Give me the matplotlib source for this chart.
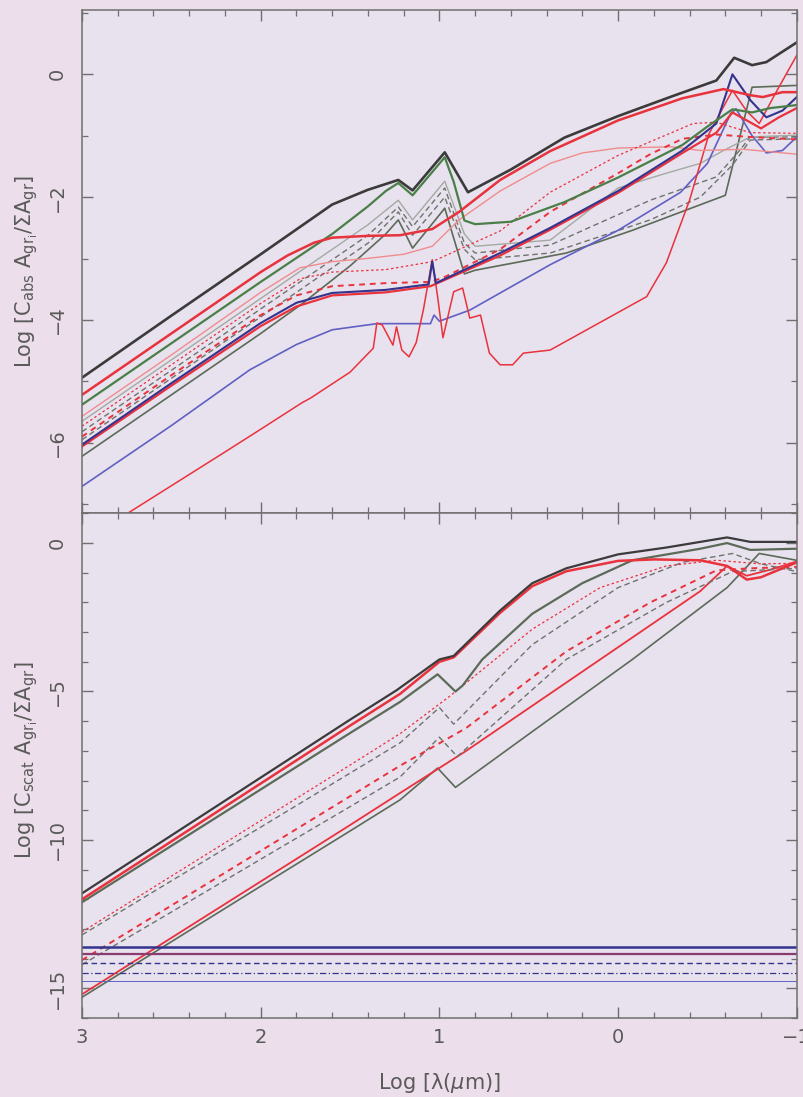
import matplotlib
matplotlib.use("Agg")
import matplotlib.pyplot as plt
from matplotlib.ticker import MultipleLocator

plt.rcParams['font.family'] = ['DejaVu Sans']
plt.rcParams['mathtext.fontset'] = 'dejavusans'

# ---------------- top panel: absorption ----------------
abs_black_x = [3.0, 2.5, 2.0, 1.6, 1.4, 1.23, 1.15, 0.97, 0.84, 0.6, 0.3, 0.0, -0.3, -0.55, -0.65, -0.75, -0.83, -1.0]
abs_black_y = [-4.94, -3.93, -2.93, -2.12, -1.88, -1.72, -1.89, -1.27, -1.92, -1.55, -1.03, -0.68, -0.36, -0.10, 0.27, 0.15, 0.20, 0.52]

abs_green_x = [3.0, 2.5, 2.0, 1.6, 1.4, 1.3, 1.23, 1.15, 0.97, 0.92, 0.86, 0.8, 0.6, 0.3, 0.0, -0.36, -0.5, -0.64, -0.75, -0.85, -1.0]
abs_green_y = [-5.38, -4.38, -3.38, -2.6, -2.15, -1.9, -1.77, -1.97, -1.35, -1.75, -2.38, -2.44, -2.4, -2.08, -1.68, -1.15, -0.85, -0.57, -0.62, -0.55, -0.5]

abs_gray_x = [3.0, 2.5, 2.0, 1.6, 1.4, 1.23, 1.15, 0.97, 0.86, 0.8, 0.38, 0.0, -0.27, -0.46, -0.59, -0.74, -1.0]
abs_gray_y = [-5.65, -4.65, -3.65, -2.85, -2.45, -2.05, -2.37, -1.74, -2.6, -2.8, -2.7, -1.85, -1.61, -1.45, -1.24, -1.02, -0.99]

abs_gdash1_x = [3.0, 2.5, 2.0, 1.6, 1.4, 1.23, 1.15, 0.97, 0.86, 0.8, 0.38, -0.18, -0.55, -0.68, -0.74, -1.0]
abs_gdash1_y = [-5.82, -4.82, -3.82, -3.02, -2.62, -2.16, -2.48, -1.85, -2.75, -2.91, -2.78, -2.05, -1.67, -1.24, -1.02, -1.02]

abs_gdash2_x = [3.0, 2.5, 2.0, 1.6, 1.4, 1.23, 1.15, 0.97, 0.86, 0.8, 0.38, -0.18, -0.46, -0.64, -0.74, -1.0]
abs_gdash2_y = [-5.95, -4.95, -3.95, -3.15, -2.75, -2.24, -2.62, -2.0, -2.85, -3.02, -2.91, -2.37, -2.0, -1.48, -1.07, -1.05]

abs_glow_x = [3.0, 2.5, 2.0, 1.77, 1.5, 1.3, 1.23, 1.15, 0.97, 0.86, 0.8, 0.29, -0.08, -0.6, -0.75, -1.0]
abs_glow_y = [-6.22, -5.22, -4.22, -3.74, -3.12, -2.6, -2.37, -2.83, -2.18, -3.25, -3.19, -2.91, -2.54, -1.97, -0.21, -0.18]

abs_red1_x = [3.0, 2.5, 2.0, 1.85, 1.7, 1.6, 1.4, 1.22, 1.04, 0.89, 0.66, 0.38, 0.0, -0.36, -0.59, -0.74, -0.81, -0.92, -1.0]
abs_red1_y = [-5.22, -4.22, -3.22, -2.95, -2.74, -2.66, -2.63, -2.62, -2.52, -2.24, -1.72, -1.25, -0.75, -0.39, -0.24, -0.34, -0.37, -0.29, -0.29]

abs_pink_x = [3.0, 2.5, 2.0, 1.78, 1.6, 1.41, 1.2, 1.04, 0.89, 0.66, 0.38, 0.2, 0.0, -0.3, -0.46, -0.7, -1.0]
abs_pink_y = [-5.57, -4.57, -3.55, -3.15, -3.05, -3.0, -2.93, -2.8, -2.37, -1.9, -1.45, -1.28, -1.2, -1.18, -1.24, -1.22, -1.3]

abs_rdash1_x = [3.0, 2.5, 2.0, 1.78, 1.6, 1.3, 1.04, 0.66, 0.38, 0.0, -0.42, -0.55, -0.74, -1.0]
abs_rdash1_y = [-5.73, -4.73, -3.73, -3.33, -3.22, -3.18, -3.05, -2.55, -1.92, -1.32, -0.8, -0.78, -0.95, -0.96]

abs_rdash2_x = [3.0, 2.5, 2.0, 1.8, 1.6, 1.3, 1.05, 0.97, 0.66, 0.38, 0.0, -0.18, -0.36, -0.55, -0.74, -1.0]
abs_rdash2_y = [-5.9, -4.9, -3.92, -3.6, -3.45, -3.4, -3.38, -3.3, -2.85, -2.24, -1.61, -1.3, -1.05, -0.98, -1.02, -1.06]

abs_navy_x = [3.0, 2.5, 2.0, 1.8, 1.6, 1.3, 1.06, 1.04, 1.02, 0.66, 0.38, 0.0, -0.36, -0.55, -0.64, -0.74, -0.83, -0.92, -1.0]
abs_navy_y = [-6.03, -5.03, -4.05, -3.72, -3.56, -3.51, -3.42, -3.05, -3.4, -2.91, -2.5, -1.9, -1.24, -0.8, 0.0, -0.42, -0.7, -0.59, -0.37]

abs_red2_x = [3.0, 2.5, 2.0, 1.8, 1.6, 1.3, 1.05, 0.66, 0.38, 0.0, -0.36, -0.55, -0.64, -0.72, -0.8, -0.9, -1.0]
abs_red2_y = [-6.06, -5.07, -4.1, -3.78, -3.6, -3.55, -3.45, -2.95, -2.53, -1.93, -1.28, -0.95, -0.62, -0.75, -0.88, -0.7, -0.55]

abs_blue_x = [3.0, 2.5, 2.06, 1.8, 1.6, 1.35, 1.05, 1.03, 1.0, 0.83, 0.38, 0.0, -0.35, -0.5, -0.63, -0.66, -0.75, -0.83, -0.92, -1.0]
abs_blue_y = [-6.71, -5.72, -4.81, -4.4, -4.16, -4.06, -4.06, -3.92, -4.02, -3.84, -3.1, -2.54, -1.92, -1.45, -0.64, -0.56, -1.0, -1.28, -1.24, -1.02]

abs_red3_x = [3.0, 2.74, 2.5, 2.2, 2.0, 1.77, 1.72, 1.5, 1.37, 1.35, 1.32, 1.26, 1.24, 1.21, 1.17, 1.13, 1.09, 1.04, 1.01, 0.98, 0.92, 0.87, 0.83, 0.77, 0.72, 0.66, 0.59, 0.53, 0.38, -0.16, -0.27, -0.4, -0.51, -0.64, -0.72, -0.79, -0.89, -1.0]
abs_red3_y = [-7.6, -7.14, -6.7, -6.15, -5.78, -5.35, -5.27, -4.85, -4.46, -4.05, -4.08, -4.41, -4.11, -4.49, -4.6, -4.37, -3.84, -3.02, -3.62, -4.29, -3.54, -3.48, -3.97, -3.92, -4.54, -4.73, -4.73, -4.54, -4.49, -3.62, -3.07, -2.05, -0.96, -0.26, -0.6, -0.8, -0.26, 0.31]

# ---------------- bottom panel: scattering ----------------
sca_black_x = [3.0, 2.5, 2.0, 1.5, 1.24, 1.0, 0.92, 0.66, 0.48, 0.29, 0.0, -0.27, -0.61, -0.74, -1.0]
sca_black_y = [-11.8, -9.85, -7.9, -5.95, -4.96, -3.92, -3.8, -2.27, -1.35, -0.85, -0.38, -0.15, 0.19, 0.04, 0.04]

sca_red1_x = [3.0, 2.5, 2.0, 1.5, 1.22, 1.0, 0.92, 0.66, 0.48, 0.29, 0.0, -0.2, -0.46, -0.61, -0.72, -0.8, -1.0]
sca_red1_y = [-12.0, -10.05, -8.1, -6.15, -5.08, -4.0, -3.85, -2.35, -1.45, -0.95, -0.6, -0.55, -0.58, -0.77, -1.23, -1.15, -0.65]

sca_green1_x = [3.0, 2.5, 2.0, 1.5, 1.22, 1.01, 0.91, 0.87, 0.76, 0.48, 0.2, -0.08, -0.46, -0.61, -0.74, -1.0]
sca_green1_y = [-12.1, -10.2, -8.3, -6.4, -5.35, -4.42, -5.0, -4.8, -3.92, -2.38, -1.35, -0.58, -0.19, 0.0, -0.23, -0.19]

sca_rdash1_x = [3.0, 2.5, 2.0, 1.5, 1.22, 0.94, 0.48, 0.1, -0.27, -0.55, -0.8, -1.0]
sca_rdash1_y = [-13.1, -11.22, -9.35, -7.48, -6.42, -5.15, -2.9, -1.5, -0.77, -0.58, -0.7, -0.68]

sca_gdash1_x = [3.0, 2.5, 2.0, 1.5, 1.22, 1.0, 0.92, 0.48, 0.0, -0.36, -0.64, -0.8, -1.0]
sca_gdash1_y = [-13.2, -11.38, -9.57, -7.75, -6.73, -5.54, -6.1, -3.42, -1.5, -0.65, -0.35, -0.7, -0.96]

sca_rdash2_x = [3.0, 2.5, 2.0, 1.5, 1.22, 0.85, 0.29, -0.18, -0.55, -0.74, -1.0]
sca_rdash2_y = [-14.05, -12.21, -10.37, -8.53, -7.5, -6.23, -3.65, -2.0, -0.92, -0.85, -0.8]

sca_gdash2_x = [3.0, 2.5, 2.0, 1.5, 1.22, 1.0, 0.9, 0.29, -0.27, -0.64, -1.0]
sca_gdash2_y = [-14.2, -12.43, -10.65, -8.88, -7.88, -6.54, -7.19, -3.92, -2.0, -0.96, -0.85]

sca_red2_x = [3.0, 2.5, 2.0, 1.5, 1.22, 0.85, 0.1, -0.46, -0.61, -0.72, -0.85, -1.0]
sca_red2_y = [-15.2, -13.3, -11.4, -9.5, -8.42, -7.0, -3.92, -1.62, -0.77, -1.1, -0.9, -0.62]

sca_green2_x = [3.0, 2.5, 2.0, 1.5, 1.22, 1.01, 0.91, 0.48, -0.08, -0.61, -0.79, -1.0]
sca_green2_y = [-15.3, -13.43, -11.56, -9.7, -8.65, -7.58, -8.23, -6.35, -3.92, -1.5, -0.35, -0.58]

flat_levels = [-13.6, -13.85, -14.15, -14.47, -14.75]

xticks = [3, 2, 1, 0, -1]
top_yticks = [-6, -4, -2, 0]
bot_yticks = [-15, -10, -5, 0]

# ---------------- styles ----------------
BLACK = '#3b3b3b'
GGRAY = '#5b6b58'
GREEN = '#4a7f48'
LGRAY = '#a2aaa2'
DGRAY = '#6c746c'
RED = '#e8323c'
PINK = '#f08c8c'
NAVY = '#34348e'
BLUE = '#6060c4'
MAROON = '#8a3c6e'

BG_FIG = '#ecdfeb'
BG_AX = '#e8e1ee'

fig = plt.figure(figsize=(8.04, 10.97), dpi=100, facecolor=BG_FIG)
ax1 = fig.add_axes([0.102, 0.532, 0.889, 0.459], facecolor=BG_AX)
ax2 = fig.add_axes([0.102, 0.072, 0.889, 0.460], facecolor=BG_AX)

top_curves = [
    (abs_glow_x, abs_glow_y, GGRAY, '-', 1.2),
    (abs_gdash2_x, abs_gdash2_y, DGRAY, (0, (4, 2.5)), 1.0),
    (abs_gdash1_x, abs_gdash1_y, DGRAY, (0, (4, 2.5)), 1.0),
    (abs_gray_x, abs_gray_y, LGRAY, '-', 1.0),
    (abs_blue_x, abs_blue_y, BLUE, '-', 1.2),
    (abs_red3_x, abs_red3_y, RED, '-', 1.1),
    (abs_pink_x, abs_pink_y, PINK, '-', 1.0),
    (abs_rdash1_x, abs_rdash1_y, RED, (0, (2, 2)), 0.9),
    (abs_rdash2_x, abs_rdash2_y, RED, (0, (3, 2.5)), 1.4),
    (abs_red2_x, abs_red2_y, RED, '-', 1.6),
    (abs_navy_x, abs_navy_y, NAVY, '-', 1.5),
    (abs_green_x, abs_green_y, GREEN, '-', 1.6),
    (abs_red1_x, abs_red1_y, RED, '-', 1.8),
    (abs_black_x, abs_black_y, BLACK, '-', 1.9),
]
for x, y, c, ls, lw in top_curves:
    ax1.plot(x, y, color=c, ls=ls, lw=lw, solid_joinstyle='round')

bot_curves = [
    (sca_green2_x, sca_green2_y, GGRAY, '-', 1.2),
    (sca_red2_x, sca_red2_y, RED, '-', 1.3),
    (sca_gdash2_x, sca_gdash2_y, DGRAY, (0, (4, 2.5)), 1.0),
    (sca_rdash2_x, sca_rdash2_y, RED, (0, (3, 2.5)), 1.4),
    (sca_gdash1_x, sca_gdash1_y, DGRAY, (0, (4, 2.5)), 1.0),
    (sca_rdash1_x, sca_rdash1_y, RED, (0, (2, 2)), 0.9),
    (sca_green1_x, sca_green1_y, GGRAY, '-', 1.6),
    (sca_red1_x, sca_red1_y, RED, '-', 1.8),
    (sca_black_x, sca_black_y, BLACK, '-', 1.6),
]
for x, y, c, ls, lw in bot_curves:
    ax2.plot(x, y, color=c, ls=ls, lw=lw, solid_joinstyle='round')

flat_styles = [
    (NAVY, '-', 1.8),
    (MAROON, '-', 1.6),
    (NAVY, (0, (4, 2.5)), 1.0),
    (NAVY, (0, (5, 2, 1, 2)), 0.9),
    (BLUE, '-', 0.7),
]
for lev, (c, ls, lw) in zip(flat_levels, flat_styles):
    ax2.axhline(lev, color=c, ls=ls, lw=lw)

FRAME = '#6f6f6f'
TXT = '#5a5a5a'
for ax in (ax1, ax2):
    ax.set_xlim(3, -1)
    ax.xaxis.set_major_locator(MultipleLocator(1))
    ax.xaxis.set_minor_locator(MultipleLocator(0.2))
    ax.yaxis.set_minor_locator(MultipleLocator(1))
    ax.tick_params(which='both', direction='in', top=True, right=True,
                   color=FRAME, labelcolor=TXT, labelsize=14)
    ax.tick_params(which='major', length=8, width=1.0)
    ax.tick_params(which='minor', length=4, width=0.9)
    ax.tick_params(axis='y', which='major', labelrotation=90, pad=11)
    for sp in ax.spines.values():
        sp.set_color(FRAME)
        sp.set_linewidth(1.1)

ax1.set_ylim(-7.15, 1.05)
ax1.set_yticks(top_yticks)
ax1.set_xticks(xticks)
ax1.tick_params(axis='x', labelbottom=False)
for lab in ax1.get_yticklabels():
    lab.set_va('center')

ax2.set_ylim(-16, 1)
ax2.set_yticks(bot_yticks)
ax2.set_xticks(xticks)
ax2.tick_params(axis='x', pad=7)
for lab in ax2.get_yticklabels():
    lab.set_va('center')

ax1.set_ylabel(r'Log [C$_{\rm abs}$ A$_{\rm gr_i}$/$\Sigma$A$_{\rm gr}$]', fontsize=15, color=TXT)
ax2.set_ylabel(r'Log [C$_{\rm scat}$ A$_{\rm gr_i}$/$\Sigma$A$_{\rm gr}$]', fontsize=15, color=TXT)
ax1.yaxis.set_label_coords(-0.059, 0.48)
ax2.yaxis.set_label_coords(-0.059, 0.51)
ax2.set_xlabel(r'Log [λ($\mu$m)]', fontsize=15, color=TXT)
ax2.xaxis.set_label_coords(0.5, -0.105)

fig.savefig('out.png', dpi=100, facecolor=BG_FIG)
